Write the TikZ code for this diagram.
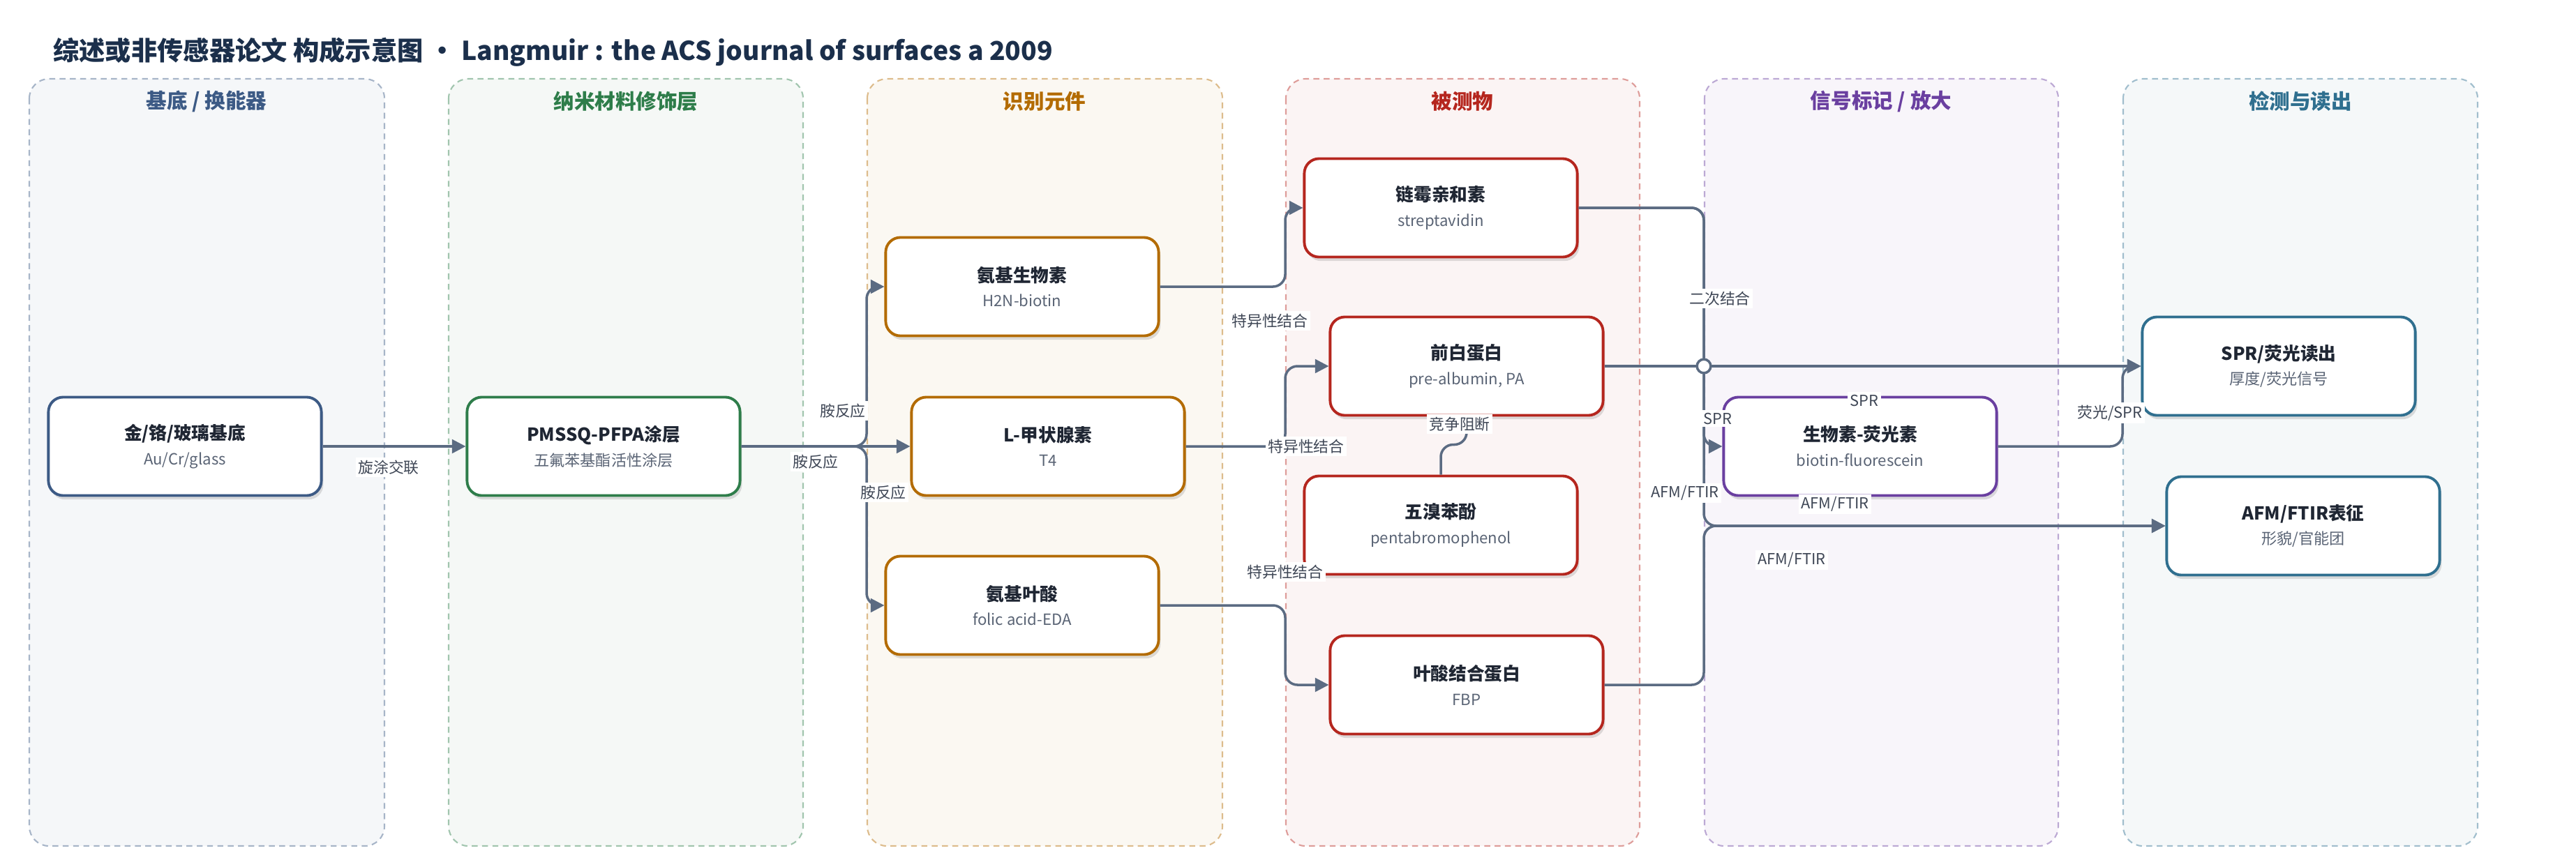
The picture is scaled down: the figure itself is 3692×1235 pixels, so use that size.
\documentclass[tikz,border=0pt]{standalone}
\usepackage{fontspec}
\setmainfont{Noto Sans CJK SC}
\usepackage{tikz}
\usetikzlibrary{arrows.meta,shadows,positioning}

\definecolor{ink}{HTML}{1B2F4B}
\definecolor{wire}{HTML}{5B6B82}
\definecolor{lblink}{HTML}{3F4756}
\definecolor{nodeink}{HTML}{1F2633}
\definecolor{subink}{HTML}{5A6475}
\definecolor{subC}{HTML}{3C5A85}
\definecolor{nanoC}{HTML}{2E7D4A}
\definecolor{recC}{HTML}{B36B00}
\definecolor{anaC}{HTML}{B5261E}
\definecolor{sigC}{HTML}{6A3FA0}
\definecolor{detC}{HTML}{2F6F8F}

\newcommand{\twoline}[2]{{\bfseries\color{nodeink}#1}\\{\color{subink}\fontsize{6.3}{10.2}\selectfont #2}}

\begin{document}
\begin{tikzpicture}[x=0.01cm, y=-0.01cm,
  lane/.style={draw=#1!45, fill=#1!5, line width=0.6pt, dash pattern=on 2.4pt off 1.8pt, rounded corners=8pt},
  head/.style={text=#1, font=\bfseries\fontsize{8.4}{10}\selectfont},
  box/.style={draw=#1, line width=1.1pt, fill=white, rounded corners=6pt, minimum width=3.91cm, minimum height=1.41cm, align=center, font=\fontsize{7.3}{10.2}\selectfont, drop shadow={shadow xshift=0.8pt, shadow yshift=-1.6pt, opacity=0.12, fill=black}},
  flow/.style={draw=wire, line width=1pt, rounded corners=5pt, -{Triangle[length=5.6pt,width=5.6pt]}},
  lbl/.style={fill=white, inner sep=1pt, text=lblink, font=\fontsize{6.2}{7}\selectfont}]
\useasboundingbox (0,0) rectangle (3692,1235);

\node[anchor=west, text=ink, font=\bfseries\fontsize{10.6}{13}\selectfont] (title) at (64,75) {综述或非传感器论文 构成示意图 • Langmuir : the ACS journal of surfaces a 2009};

\draw[lane=subC] (42,113) rectangle (551,1213);
\draw[lane=nanoC] (643,113) rectangle (1151,1213);
\draw[lane=recC] (1243,113) rectangle (1752,1213);
\draw[lane=anaC] (1843,113) rectangle (2350,1213);
\draw[lane=sigC] (2443,113) rectangle (2950,1213);
\draw[lane=detC] (3043,113) rectangle (3551,1213);
\node[head=subC] (h1) at (296,145) {基底 / 换能器};
\node[head=nanoC] (h2) at (897,145) {纳米材料修饰层};
\node[head=recC] (h3) at (1497,145) {识别元件};
\node[head=anaC] (h4) at (2096,145) {被测物};
\node[head=sigC] (h5) at (2696,145) {信号标记 / 放大};
\node[head=detC] (h6) at (3297,145) {检测与读出};

\coordinate (bus3) at (1242,0);
\coordinate (bus4) at (1842,0);
\coordinate (bus5) at (2442,0);
\coordinate (bus6) at (3042,0);

\node[box=subC] (sub) at (265,640) {\twoline{金/铬/玻璃基底}{Au/Cr/glass}};
\node[box=nanoC] (pmssq) at (865,640) {\twoline{PMSSQ-PFPA涂层}{五氟苯基酯活性涂层}};
\node[box=recC] (biotin) at (1465,411) {\twoline{氨基生物素}{H2N-biotin}};
\node[box=recC] (t4) at (1502,640) {\twoline{L-甲状腺素}{T4}};
\node[box=recC] (folic) at (1465,868) {\twoline{氨基叶酸}{folic acid-EDA}};
\node[box=anaC] (strep) at (2065,298) {\twoline{链霉亲和素}{streptavidin}};
\node[box=anaC] (pa) at (2102,525) {\twoline{前白蛋白}{pre-albumin, PA}};
\node[box=anaC] (pbp) at (2065,753) {\twoline{五溴苯酚}{pentabromophenol}};
\node[box=anaC] (fbp) at (2102,982) {\twoline{叶酸结合蛋白}{FBP}};
\node[box=sigC] (bio) at (2666,640) {\twoline{生物素-荧光素}{biotin-fluorescein}};
\node[box=detC] (spr) at (3266,525) {\twoline{SPR/荧光读出}{厚度/荧光信号}};
\node[box=detC] (afm) at (3301,754) {\twoline{AFM/FTIR表征}{形貌/官能团}};

\draw[flow] (sub) -- (pmssq);
\draw[flow] (pmssq.east) -- (pmssq.east -| bus3) -- (bus3 |- biotin) -- (biotin.west);
\draw[flow] (pmssq) -- (t4);
\draw[flow] (pmssq.east) -- (pmssq.east -| bus3) -- (bus3 |- folic) -- (folic.west);
\draw[flow] (biotin.east) -- (biotin.east -| bus4) -- (bus4 |- strep) -- (strep.west);
\draw[flow] (t4.east) -- (t4.east -| bus4) -- (bus4 |- pa) -- (pa.west);
\draw[flow] (folic.east) -- (folic.east -| bus4) -- (bus4 |- fbp) -- (fbp.west);
\draw[flow] (pbp.north) -- ++(0,-43) -| (pa.south);
\draw[flow] (strep.east) -- (strep.east -| bus5) -- (bus5 |- bio) -- (bio.west);
\draw[flow] (strep.east) -- (strep.east -| bus5) -- (bus5 |- afm) -- (afm.west);
\draw[flow] (fbp.east) -- (fbp.east -| bus5) -- (bus5 |- afm) -- (afm.west);
\draw[flow] (pa) -- (spr);
\draw[flow] (bio.east) -- (bio.east -| bus6) -- (bus6 |- spr) -- (spr.west);
\draw[draw=wire, line width=1pt, fill=white] (bus5 |- pa) circle[radius=2.8pt];

\node[lbl] (l1) at (557,670) {旋涂交联};
\node[lbl] (l2) at (1208,589) {胺反应};
\node[lbl] (l3) at (1169,662) {胺反应};
\node[lbl] (l4) at (1266,706) {胺反应};
\node[lbl] (l5) at (1820,460) {特异性结合};
\node[lbl] (l6) at (1872,640) {特异性结合};
\node[lbl] (l7) at (1842,820) {特异性结合};
\node[lbl] (l8) at (2092,608) {竞争阻断};
\node[lbl] (l9) at (2465,428) {二次结合};
\node[lbl] (l10) at (2672,574) {SPR};
\node[lbl] (l11) at (2462,600) {SPR};
\node[lbl] (l12) at (2415,707) {AFM/FTIR};
\node[lbl] (l13) at (2630,723) {AFM/FTIR};
\node[lbl] (l14) at (2568,803) {AFM/FTIR};
\node[lbl] (l15) at (3024,592) {荧光/SPR};
\end{tikzpicture}
\end{document}
